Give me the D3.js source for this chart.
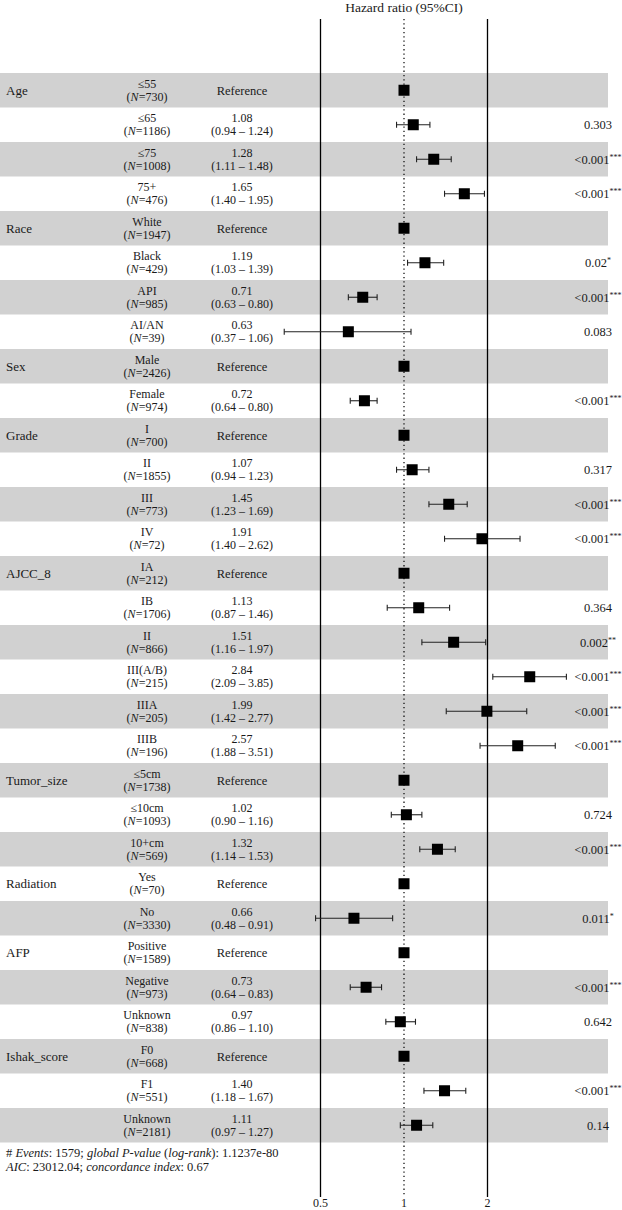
<!DOCTYPE html>
<html>
<head>
<meta charset="utf-8">
<script src="https://cdn.jsdelivr.net/npm/d3@7"></script>
<style>
  body { margin: 0; background: #fff; }
  svg text { font-family: "Liberation Serif", "DejaVu Serif", serif; fill: #1a1a1a; }
</style>
</head>
<body>
<svg width="622" height="1210"></svg>
<script>
// rows of the forest plot
const groups = ["Age", "", "", "", "Race", "", "", "", "Sex", "", "Grade", "", "", "", "AJCC_8", "", "", "", "", "",
  "Tumor_size", "", "", "Radiation", "", "AFP", "", "", "Ishak_score", "", ""];
const levels = ["≤55", "≤65", "≤75", "75+", "White", "Black", "API", "AI/AN", "Male", "Female", "I", "II", "III", "IV",
  "IA", "IB", "II", "III(A/B)", "IIIA", "IIIB", "≤5cm", "≤10cm", "10+cm", "Yes", "No", "Positive", "Negative", "Unknown",
  "F0", "F1", "Unknown"];
const counts = [730, 1186, 1008, 476, 1947, 429, 985, 39, 2426, 974, 700, 1855, 773, 72, 212, 1706, 866, 215, 205, 196,
  1738, 1093, 569, 70, 3330, 1589, 973, 838, 668, 551, 2181];
const hrValues = [1, 1.08, 1.28, 1.65, 1, 1.19, 0.71, 0.63, 1, 0.72, 1, 1.07, 1.45, 1.91, 1, 1.13, 1.51, 2.84, 1.99, 2.57,
  1, 1.02, 1.32, 1, 0.66, 1, 0.73, 0.97, 1, 1.40, 1.11];
const ciLow = [null, 0.94, 1.11, 1.40, null, 1.03, 0.63, 0.37, null, 0.64, null, 0.94, 1.23, 1.40, null, 0.87, 1.16, 2.09, 1.42, 1.88,
  null, 0.90, 1.14, null, 0.48, null, 0.64, 0.86, null, 1.18, 0.97];
const ciHigh = [null, 1.24, 1.48, 1.95, null, 1.39, 0.80, 1.06, null, 0.80, null, 1.23, 1.69, 2.62, null, 1.46, 1.97, 3.85, 2.77, 3.51,
  null, 1.16, 1.53, null, 0.91, null, 0.83, 1.10, null, 1.67, 1.27];
const pValues = ["", "0.303", "<0.001", "<0.001", "", "0.02", "<0.001", "0.083", "", "<0.001", "", "0.317", "<0.001", "<0.001",
  "", "0.364", "0.002", "<0.001", "<0.001", "<0.001", "", "0.724", "<0.001", "", "0.011", "", "<0.001", "0.642", "", "<0.001", "0.14"];
const stars = ["", "", "***", "***", "", "*", "***", "", "", "***", "", "", "***", "***", "", "", "**", "***", "***", "***",
  "", "", "***", "", "*", "", "***", "", "", "***", ""];
const axisTicks = [0.5, 1, 2];

const svg = d3.select("svg");
const rows = d3.range(levels.length);

let x = d3.scaleLog().domain([0.5, 2]).range([320.5, 487.5]);
let y = d3.scaleBand().domain(rows).range([73, 1142.5]).padding(0);
const mid = i => y(i) + y.bandwidth() / 2;

// alternating bands
svg.append("g").selectAll("rect")
  .data(rows.filter(i => i % 2 === 0))
  .enter().append("rect")
  .attr("x", 0)
  .attr("y", i => y(i))
  .attr("width", 608)
  .attr("height", y.bandwidth())
  .attr("fill", "#d1d1d1");

// reference lines
svg.append("g").selectAll("line")
  .data(axisTicks)
  .enter().append("line")
  .attr("x1", d => x(d)).attr("x2", d => x(d))
  .attr("y1", 19).attr("y2", 1197)
  .attr("stroke", "#000")
  .attr("stroke-width", d => d === 1 ? 1.2 : 1.3)
  .attr("stroke-dasharray", d => d === 1 ? "1.3,3" : null);

svg.append("g").selectAll("text")
  .data(axisTicks)
  .enter().append("text")
  .attr("x", d => x(d))
  .attr("y", 1207)
  .attr("text-anchor", "middle")
  .attr("font-size", 12)
  .text(d => d);

svg.append("text")
  .attr("x", x(1)).attr("y", 12)
  .attr("text-anchor", "middle")
  .attr("font-size", 13.5)
  .text("Hazard ratio (95%CI)");

// group names
svg.append("g").selectAll("text")
  .data(rows.filter(i => groups[i]))
  .enter().append("text")
  .attr("x", 6)
  .attr("y", i => mid(i))
  .attr("dy", "0.35em")
  .attr("font-size", 13)
  .text(i => groups[i]);

// level + N
let lev = svg.append("g").selectAll("g")
  .data(rows)
  .enter().append("g");

lev.append("text")
  .attr("x", 147)
  .attr("y", i => mid(i) - 6.5)
  .attr("dy", "0.35em")
  .attr("text-anchor", "middle")
  .attr("font-size", 12)
  .text(i => levels[i]);

let nText = lev.append("text")
  .attr("x", 147)
  .attr("y", i => mid(i) + 6.5)
  .attr("dy", "0.35em")
  .attr("text-anchor", "middle")
  .attr("font-size", 12);
nText.append("tspan").text("(");
nText.append("tspan").attr("font-style", "italic").text("N");
nText.append("tspan").text(i => "=" + counts[i] + ")");

// estimates text
let est = svg.append("g").selectAll("g")
  .data(rows)
  .enter().append("g");

est.filter(i => ciLow[i] === null).append("text")
  .attr("x", 242)
  .attr("y", i => mid(i))
  .attr("dy", "0.35em")
  .attr("text-anchor", "middle")
  .attr("font-size", 12.5)
  .text("Reference");

let fmt = d3.format(".2f");
est.filter(i => ciLow[i] !== null).append("text")
  .attr("x", 242)
  .attr("y", i => mid(i) - 6.5)
  .attr("dy", "0.35em")
  .attr("text-anchor", "middle")
  .attr("font-size", 12)
  .text(i => fmt(hrValues[i]));

est.filter(i => ciLow[i] !== null).append("text")
  .attr("x", 242)
  .attr("y", i => mid(i) + 6.5)
  .attr("dy", "0.35em")
  .attr("text-anchor", "middle")
  .attr("font-size", 12)
  .text(i => "(" + fmt(ciLow[i]) + " – " + fmt(ciHigh[i]) + ")");

// confidence intervals
let ci = svg.append("g").selectAll("g")
  .data(rows.filter(i => ciLow[i] !== null))
  .enter().append("g")
  .attr("stroke", "#222")
  .attr("stroke-width", 1.1);

ci.append("line")
  .attr("x1", i => x(ciLow[i])).attr("x2", i => x(ciHigh[i]))
  .attr("y1", i => mid(i)).attr("y2", i => mid(i));
ci.append("line")
  .attr("x1", i => x(ciLow[i])).attr("x2", i => x(ciLow[i]))
  .attr("y1", i => mid(i) - 3).attr("y2", i => mid(i) + 3);
ci.append("line")
  .attr("x1", i => x(ciHigh[i])).attr("x2", i => x(ciHigh[i]))
  .attr("y1", i => mid(i) - 3).attr("y2", i => mid(i) + 3);

// point estimates
svg.append("g").selectAll("rect")
  .data(rows)
  .enter().append("rect")
  .attr("x", i => x(hrValues[i]) - 5.5)
  .attr("y", i => mid(i) - 5.5)
  .attr("width", 11)
  .attr("height", 11)
  .attr("fill", "#000");

// p-values
let pText = svg.append("g").selectAll("text")
  .data(rows.filter(i => pValues[i]))
  .enter().append("text")
  .attr("x", 598)
  .attr("y", i => mid(i))
  .attr("dy", "0.35em")
  .attr("text-anchor", "middle")
  .attr("font-size", 12.5);
pText.append("tspan").text(i => pValues[i]);
pText.append("tspan")
  .attr("font-size", 8)
  .attr("dy", -4)
  .text(i => stars[i]);

// footer
let f1 = svg.append("text").attr("x", 6).attr("y", 1157).attr("font-size", 12.5);
f1.append("tspan").text("# ");
f1.append("tspan").attr("font-style", "italic").text("Events");
f1.append("tspan").text(": 1579; ");
f1.append("tspan").attr("font-style", "italic").text("global P-value");
f1.append("tspan").text(" (");
f1.append("tspan").attr("font-style", "italic").text("log-rank");
f1.append("tspan").text("): 1.1237e-80");

let f2 = svg.append("text").attr("x", 6).attr("y", 1171).attr("font-size", 12.5);
f2.append("tspan").attr("font-style", "italic").text("AIC");
f2.append("tspan").text(": 23012.04; ");
f2.append("tspan").attr("font-style", "italic").text("concordance index");
f2.append("tspan").text(": 0.67");
</script>
</body>
</html>
